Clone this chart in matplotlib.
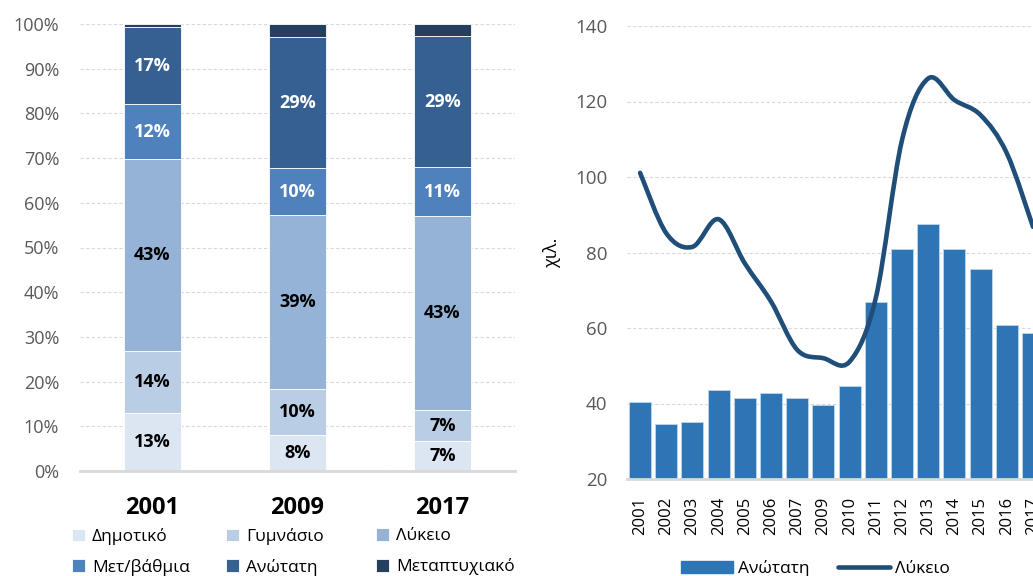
import numpy as np
import matplotlib.pyplot as plt
from matplotlib.path import Path
from matplotlib.patches import PathPatch, Patch
from matplotlib.lines import Line2D

plt.rcParams['font.family'] = ['Open Sans', 'DejaVu Sans']

# left chart: share of each education level (%)
years_left = ['2001', '2009', '2017']
levels = ['Δημοτικό', 'Γυμνάσιο', 'Λύκειο', 'Μετ/βάθμια', 'Ανώτατη', 'Μεταπτυχιακό']
dimotiko = [13.0, 8.1, 6.6]
gymnasio = [13.8, 10.2, 7.0]
lykeio = [43.0, 39.0, 43.4]
metdev = [12.3, 10.4, 11.0]
anotati = [17.2, 29.4, 29.3]
metapt = [0.7, 2.9, 2.7]
shares = [dimotiko, gymnasio, lykeio, metdev, anotati, metapt]
level_colors = ['#dce6f2', '#b9cde5', '#95b3d7', '#4f81bd', '#366092', '#243f60']
label_colors = ['black', 'black', 'black', 'white', 'white', None]

# right chart: thousands
years_right = ['2001', '2002', '2003', '2004', '2005', '2006', '2007', '2009',
               '2010', '2011', '2012', '2013', '2014', '2015', '2016', '2017']
anotati_k = [40.5, 34.5, 35.1, 43.5, 41.5, 42.7, 41.4, 39.6,
             44.7, 66.8, 80.8, 87.5, 80.9, 75.5, 60.7, 58.7]
lykeio_k = [101.1, 85.1, 81.5, 88.8, 77.1, 67.0, 54.2, 52.0,
            51.1, 68.0, 109.8, 126.1, 120.4, 116.4, 106.3, 86.8]

fig = plt.figure(figsize=(10.33, 5.76), dpi=100)

# ---- left: 100% stacked bars
ax1 = fig.add_axes([80 / 1033, 105 / 576, 435 / 1033, 447 / 576])
x = np.arange(len(years_left))
bottom = np.zeros(len(years_left))
for vals, name, col, lc in zip(shares, levels, level_colors, label_colors):
    vals = np.array(vals)
    ax1.bar(x, vals, 0.39, bottom=bottom, color=col, edgecolor='white',
            linewidth=0.6, label=name, zorder=2)
    if lc is not None:
        for xi, b, v in zip(x, bottom, vals):
            ax1.text(xi, b + v / 2, f'{round(v)}%', ha='center', va='center',
                     color=lc, fontsize=13, fontweight='bold', zorder=3)
    bottom += vals

ax1.set_xlim(-0.5, 2.5)
ax1.set_ylim(0, 100)
ax1.set_yticks(range(0, 101, 10))
ax1.set_yticklabels([f'{v}%' for v in range(0, 101, 10)], color='#595959', fontsize=13)
ax1.set_xticks(x)
ax1.set_xticklabels(years_left, fontsize=17, fontweight='bold')
ax1.tick_params(axis='both', length=0)
ax1.tick_params(axis='y', pad=15)
ax1.tick_params(axis='x', pad=18)
ax1.grid(axis='y', color='#d9d9d9', linestyle=(0, (3, 2)), linewidth=0.8, zorder=0)
for s in ['top', 'right', 'left']:
    ax1.spines[s].set_visible(False)
ax1.spines['bottom'].set_color('#d9d9d9')
ax1.spines['bottom'].set_linewidth(2)

# legend: 3 equal-width columns, filled row by row
h1, l1 = ax1.get_legend_handles_labels()
col_x = [72, 226, 376]
for c in range(3):
    leg = fig.legend([h1[c], h1[c + 3]], [l1[c], l1[c + 3]], loc='upper left',
                     bbox_to_anchor=(col_x[c] / 1033, 1 - 528 / 576),
                     frameon=False, fontsize=12.5, handlelength=0.75, handleheight=0.75,
                     handletextpad=0.4, labelspacing=0.8, borderpad=0, borderaxespad=0)

# ---- right: bars + smoothed line
ax2 = fig.add_axes([627 / 1033, 97 / 576, 406 / 1033, 453 / 576])
xr = np.arange(len(years_right))
ax2.bar(xr, anotati_k, 0.84, color='#2e75b6', edgecolor='#bdd7ee', linewidth=0.6, zorder=2)

# Excel-style smoothed line through the points (bezier segments)
px = xr.astype(float)
py = np.array(lykeio_k)
verts = [(px[0], py[0])]
codes = [Path.MOVETO]
n = len(px)
for i in range(n - 1):
    i0 = max(i - 1, 0)
    i3 = min(i + 2, n - 1)
    c1 = (px[i] + (px[i + 1] - px[i0]) / 6, py[i] + (py[i + 1] - py[i0]) / 6)
    c2 = (px[i + 1] - (px[i3] - px[i]) / 6, py[i + 1] - (py[i3] - py[i]) / 6)
    verts += [c1, c2, (px[i + 1], py[i + 1])]
    codes += [Path.CURVE4] * 3
ax2.add_patch(PathPatch(Path(verts, codes), fill=False, edgecolor='#1f4e79',
                        linewidth=3.3, capstyle='round', zorder=3))

ax2.set_xlim(-0.5, 15.0)
ax2.set_ylim(20, 140)
ax2.set_yticks(range(20, 141, 20))
ax2.set_yticklabels([str(v) for v in range(20, 141, 20)], color='#595959', fontsize=13.5)
ax2.set_xticks(xr)
ax2.set_xticklabels(years_right, rotation=90, fontsize=12)
ax2.tick_params(axis='both', length=0)
ax2.tick_params(axis='y', pad=14)
ax2.tick_params(axis='x', pad=13)
ax2.set_ylabel('χιλ.', fontsize=13, labelpad=10)
ax2.grid(axis='y', color='#d9d9d9', linestyle=(0, (3, 2)), linewidth=0.8, zorder=0)
for s in ['top', 'right', 'left']:
    ax2.spines[s].set_visible(False)
ax2.spines['bottom'].set_color('#d9d9d9')
ax2.spines['bottom'].set_linewidth(2)

h2 = [Patch(facecolor='#2e75b6', edgecolor='#2e75b6'),
      Line2D([0], [0], color='#1f4e79', linewidth=3.3, solid_capstyle='round')]
fig.legend(h2, ['Ανώτατη', 'Λύκειο'], ncol=2, loc='upper left',
           bbox_to_anchor=(672 / 1033, 1 - 551 / 576), frameon=False, fontsize=12.5,
           handlelength=3.0, handleheight=0.7, handletextpad=0.3, columnspacing=1.65,
           borderpad=0)

fig.savefig('out.png', dpi=100)
